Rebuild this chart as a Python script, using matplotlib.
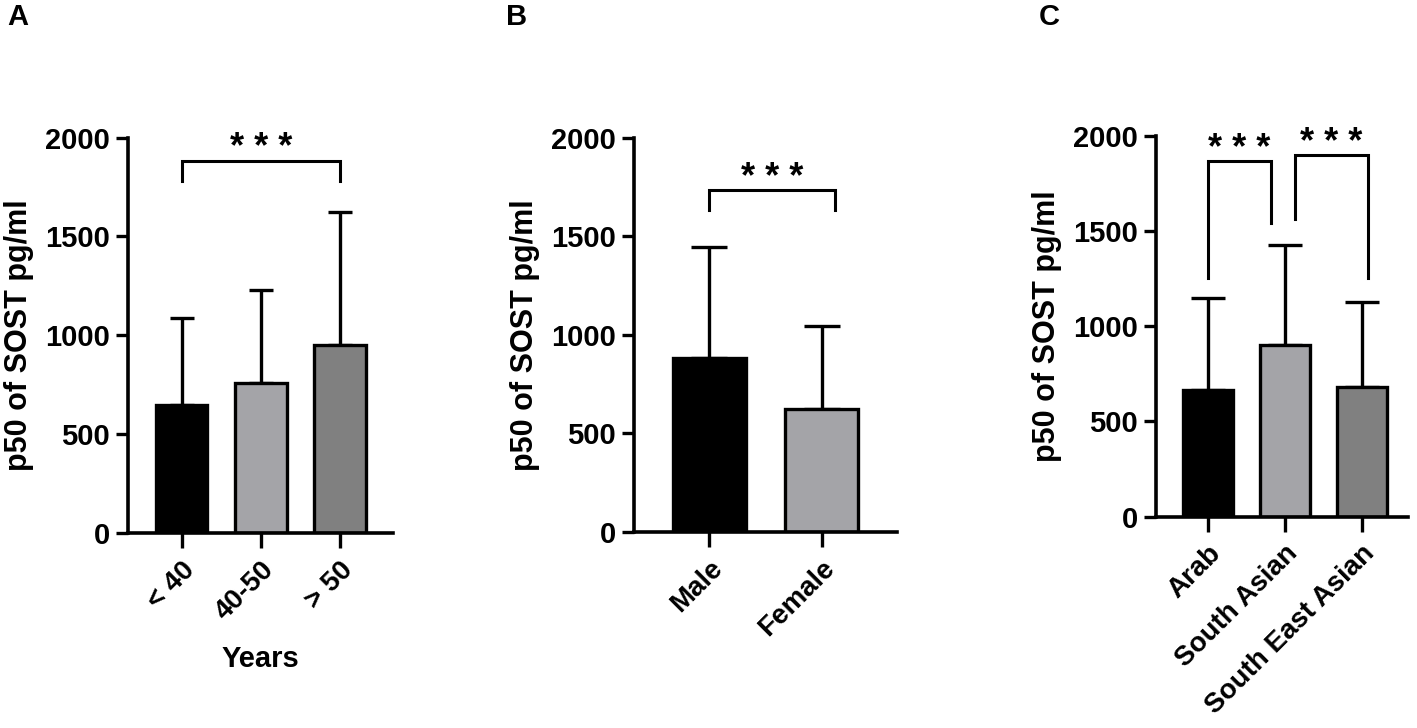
import matplotlib
matplotlib.use('Agg')
import matplotlib.pyplot as plt

plt.rcParams['font.family'] = ['Liberation Sans', 'DejaVu Sans']
plt.rcParams['font.weight'] = 'bold'

# panel A - age groups
age_groups = ['< 40', '40-50', '> 50']
age_p50 = [648, 758, 952]
age_upper = [1089, 1227, 1622]

# panel B - gender
genders = ['Male', 'Female']
gender_p50 = [885, 624]
gender_upper = [1443, 1047]

# panel C - ethnicity
ethnic = ['Arab', 'South Asian', 'South East Asian']
ethnic_p50 = [667, 903, 681]
ethnic_upper = [1151, 1425, 1127]

# significance brackets: x1, x2, top, left leg end, right leg end
age_sig = [(0.0, 2.0, 1883, 1782, 1782)]
gender_sig = [(0.0, 1.12, 1733, 1635, 1635)]
ethnic_sig = [(0.0, 0.82, 1866, 1255, 1545), (1.13, 2.08, 1898, 1565, 1255)]

colors = ['#000000', '#a4a4a8', '#808080']
FS_TICK = 21
FS_XTICK = 20
FS_LABEL = 22


def draw_panel(ax, cats, vals, upper, sig, capsize, xlim):
    x = list(range(len(cats)))
    ax.bar(x, vals, width=0.65, color=colors[:len(cats)], edgecolor='black',
           linewidth=2.4, zorder=2)
    err = [[0] * len(vals), [u - v for u, v in zip(upper, vals)]]
    ax.errorbar(x, vals, yerr=err, fmt='none', ecolor='black', elinewidth=2.4,
                capsize=capsize, capthick=2.4, zorder=1)
    for (x1, x2, top, l1, l2) in sig:
        ax.plot([x1, x1, x2, x2], [l1, top, top, l2], color='black', lw=2.2,
                clip_on=False, solid_joinstyle='miter')
        ax.annotate('* * *', xy=((x1 + x2) / 2, top), xytext=(0, 2),
                    textcoords='offset points', ha='center', va='baseline',
                    fontsize=26, fontweight='bold', annotation_clip=False)
    ax.set_ylim(0, 2000)
    ax.set_xlim(*xlim)
    ax.set_yticks([0, 500, 1000, 1500, 2000])
    ax.set_xticks(x)
    ax.set_xticklabels(cats, rotation=45, ha='right', rotation_mode='anchor')
    for s in ['top', 'right']:
        ax.spines[s].set_visible(False)
    for s in ['left', 'bottom']:
        ax.spines[s].set_linewidth(2.6)
    ax.tick_params(axis='y', length=9, width=2.4, labelsize=FS_TICK, pad=4)
    ax.tick_params(axis='x', length=11, width=2.4, labelsize=FS_XTICK, pad=6)
    ax.set_ylabel('p50 of SOST pg/ml', fontsize=FS_LABEL, fontweight='bold', labelpad=8)


fig = plt.figure(figsize=(14.17, 7.28), dpi=100)

axA = fig.add_axes([0.0903, 0.2679, 0.187, 0.543])
draw_panel(axA, age_groups, age_p50, age_upper, age_sig, 8.5, (-0.68, 2.67))
axA.set_xlabel('Years', fontsize=FS_TICK, fontweight='bold', labelpad=14)

axB = fig.add_axes([0.4474, 0.2692, 0.1856, 0.5417])
draw_panel(axB, genders, gender_p50, gender_upper, gender_sig, 13, (-0.67, 1.67))

axC = fig.add_axes([0.8158, 0.2903, 0.1778, 0.5229])
draw_panel(axC, ethnic, ethnic_p50, ethnic_upper, ethnic_sig, 12.5, (-0.675, 2.6))

for lab, xpos in [('A', 0.005), ('B', 0.357), ('C', 0.733)]:
    fig.text(xpos, 0.996, lab, fontsize=21, fontweight='bold', va='top', ha='left')

fig.savefig('out.png', dpi=100)
